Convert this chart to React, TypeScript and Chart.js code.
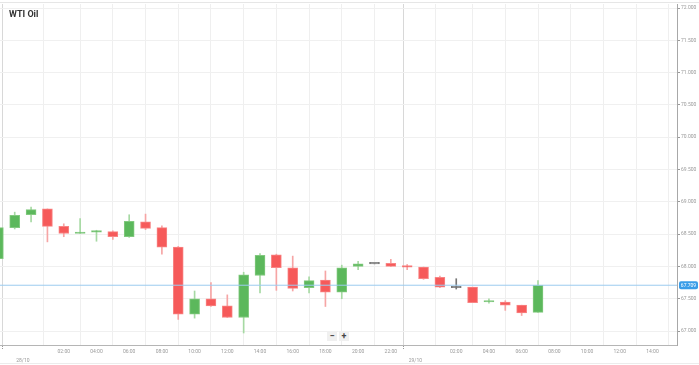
import React, { useEffect, useRef } from "react";
import { Chart, registerables } from "chart.js";

Chart.register(...registerables);

// Hourly candles, x = hours since 28/10 00:00 (first candle is 27/10 22:00)
const hours = [-2, -1, 0, 1, 2, 3, 4, 5, 6, 7, 8, 9, 10, 11, 12, 13, 14, 15, 16, 17, 18, 19, 20, 21, 22, 23, 24, 25, 26, 27, 28, 29, 30, 31];
const open = [68.12, 68.60, 68.80, 68.89, 68.62, 68.51, 68.53, 68.54, 68.46, 68.69, 68.60, 68.30, 67.26, 67.50, 67.39, 67.21, 67.86, 68.18, 67.98, 67.67, 67.79, 67.60, 68.00, 68.04, 68.05, 68.01, 67.99, 67.83, 67.67, 67.68, 67.45, 67.45, 67.40, 67.29];
const close = [68.60, 68.79, 68.88, 68.62, 68.51, 68.53, 68.55, 68.46, 68.70, 68.59, 68.30, 67.26, 67.50, 67.39, 67.21, 67.87, 68.17, 67.98, 67.66, 67.78, 67.60, 67.98, 68.04, 68.04, 68.00, 67.99, 67.81, 67.68, 67.67, 67.44, 67.455, 67.40, 67.28, 67.709];
const high = [68.62, 68.84, 68.92, 68.89, 68.66, 68.74, 68.56, 68.55, 68.80, 68.81, 68.63, 68.31, 67.62, 67.75, 67.56, 67.91, 68.20, 68.19, 68.16, 67.84, 67.93, 68.02, 68.08, 68.04, 68.11, 68.03, 67.99, 67.85, 67.81, 67.68, 67.50, 67.47, 67.40, 67.78];
const low = [68.10, 68.58, 68.69, 68.38, 68.46, 68.51, 68.39, 68.42, 68.45, 68.57, 68.19, 67.18, 67.20, 67.38, 67.21, 66.97, 67.59, 67.63, 67.62, 67.59, 67.38, 67.50, 67.95, 68.04, 68.00, 67.95, 67.80, 67.67, 67.65, 67.44, 67.43, 67.32, 67.24, 67.29];

const currentPrice = 67.709;
const currentLabel = "67.709";

const xTickValues = [-0.5, 2, 4, 6, 8, 10, 12, 14, 16, 18, 20, 22, 23.5, 26, 28, 30, 32, 34, 36, 38];
const xTickLabels = ["28/10", "02:00", "04:00", "06:00", "08:00", "10:00", "12:00", "14:00", "16:00", "18:00", "20:00", "22:00", "29/10", "02:00", "04:00", "06:00", "08:00", "10:00", "12:00", "14:00"];
const dateTicks = [-0.5, 23.5];
const yTickValues = [67, 67.5, 68, 68.5, 69, 69.5, 70, 70.5, 71, 71.5, 72];

const X_MIN = -1.9;
const X_MAX = 39.5;
const Y_MIN = 66.784;
const Y_MAX = 72.062;

const UP = "#5cb85c";
const UP_BORDER = "#82c97f";
const UP_WICK = "#a6d9a3";
const DOWN = "#f65a5a";
const DOWN_BORDER = "#f88585";
const DOWN_WICK = "#f6a5a5";
const FLAT = "#777777";

function dir(i: number) {
  return close[i] > open[i] ? 1 : close[i] < open[i] ? -1 : 0;
}

export default function App() {
  const ref = useRef<HTMLCanvasElement | null>(null);

  useEffect(() => {
    document.body.style.margin = "0";
    const canvas = ref.current;
    if (!canvas) return;
    Chart.defaults.font.family = "Roboto";

    const priceTag = {
      id: "priceTag",
      afterDraw(chart: any) {
        const y = chart.scales.y.getPixelForValue(currentPrice);
        const c = chart.ctx;
        c.save();
        c.fillStyle = "#3a9de8";
        const x0 = 679, w = 19, h = 8;
        c.beginPath();
        (c as any).roundRect(x0, y - h / 2, w, h, 2);
        c.fill();
        c.fillStyle = "#ffffff";
        c.font = "5px Roboto";
        c.textAlign = "center";
        c.textBaseline = "middle";
        c.fillText(currentLabel, x0 + w / 2, y + 0.5);
        c.restore();
      },
    };

    const chart = new Chart(canvas, {
      type: "bar",
      data: {
        datasets: [
          {
            type: "line",
            data: [
              { x: X_MIN, y: currentPrice },
              { x: X_MAX, y: currentPrice },
            ],
            borderColor: "#9ccbef",
            borderWidth: 1,
            pointRadius: 0,
            order: 0,
          } as any,
          {
            data: hours.map((h, i) => ({ x: h, y: [open[i], close[i]] })),
            backgroundColor: hours.map((_, i) => (dir(i) > 0 ? UP : dir(i) < 0 ? DOWN : FLAT)),
            borderColor: hours.map((_, i) => (dir(i) > 0 ? UP_BORDER : dir(i) < 0 ? DOWN_BORDER : FLAT)),
            borderWidth: 1,
            borderSkipped: false,
            barThickness: 10,
            minBarLength: 1.5,
            grouped: false,
            order: 1,
          } as any,
          {
            data: hours.map((h, i) => ({ x: h, y: [low[i], high[i]] })),
            backgroundColor: hours.map((_, i) => (dir(i) > 0 ? UP_WICK : dir(i) < 0 ? DOWN_WICK : FLAT)),
            borderWidth: 0,
            barThickness: 1,
            grouped: false,
            order: 2,
          } as any,
        ],
      },
      options: {
        responsive: false,
        animation: false,
        devicePixelRatio: 1,
        layout: { padding: { top: 3, left: 0, right: 0, bottom: 0 } },
        plugins: { legend: { display: false }, tooltip: { enabled: false }, title: { display: false } },
        scales: {
          x: {
            type: "linear",
            min: X_MIN,
            max: X_MAX,
            offset: false,
            afterBuildTicks: (s: any) => {
              s.ticks = xTickValues.map((v) => ({ value: v }));
            },
            afterFit: (s: any) => {
              s.height = 20;
            },
            ticks: {
              autoSkip: false,
              maxRotation: 0,
              padding: 0,
              color: "#999",
              font: (ctx: any) => ({
                size: 5,
                lineHeight: ctx.tick && dateTicks.includes(ctx.tick.value) ? 1.6 : 1.2,
              }),
              callback: (v: any) => {
                const i = xTickValues.indexOf(Number(v));
                if (i < 0) return "";
                return dateTicks.includes(Number(v)) ? ["", xTickLabels[i]] : xTickLabels[i];
              },
            } as any,
            grid: {
              color: (ctx: any) => (ctx.tick && dateTicks.includes(ctx.tick.value) ? "#d8d8d8" : "#efefef"),
              tickColor: (ctx: any) => (ctx.tick && dateTicks.includes(ctx.tick.value) ? "#999" : "rgba(0,0,0,0)"),
              tickBorderDash: [1, 1],
              tickLength: 4,
            } as any,
            border: { color: "#b5b5b5" },
          },
          y: {
            type: "linear",
            position: "right",
            min: Y_MIN,
            max: Y_MAX,
            afterBuildTicks: (s: any) => {
              s.ticks = yTickValues.map((v) => ({ value: v }));
            },
            afterFit: (s: any) => {
              s.width = 22;
            },
            ticks: {
              padding: 1,
              color: "#999",
              font: { size: 5 },
              callback: (v: any) => Number(v).toFixed(3),
            },
            grid: {
              color: "#f0f0f0",
              tickColor: "#999",
              tickLength: 3,
            },
            border: { color: "#a8a8a8" },
          },
        },
      },
      plugins: [priceTag],
    });
    return () => chart.destroy();
  }, []);

  const btn: React.CSSProperties = {
    position: "absolute",
    top: 331,
    width: 10,
    height: 10,
    background: "#f0f0f0",
    color: "#444",
    fontFamily: "Roboto",
    fontSize: 9,
    fontWeight: "bold",
    lineHeight: "10px",
    textAlign: "center",
  };

  return (
    <div style={{ position: "fixed", left: 0, top: 0, width: 699, height: 365, background: "#fff", overflow: "hidden" }}>
      <canvas ref={ref} width={699} height={365} style={{ position: "absolute", left: 0, top: 0, width: 699, height: 365 }} />
      <div style={{ position: "absolute", left: 0, top: 2, width: 699, height: 1, background: "#e6e6e6" }} />
      <div style={{ position: "absolute", left: 0, top: 363, width: 699, height: 1, background: "#ececec" }} />
      <div style={{ position: "absolute", left: 9, top: 9, fontFamily: "Roboto", fontWeight: "bold", fontSize: 9, color: "#333", lineHeight: "10px" }}>WTI Oil</div>
      <div style={{ ...btn, left: 327 }}>−</div>
      <div style={{ ...btn, left: 339 }}>+</div>
    </div>
  );
}
